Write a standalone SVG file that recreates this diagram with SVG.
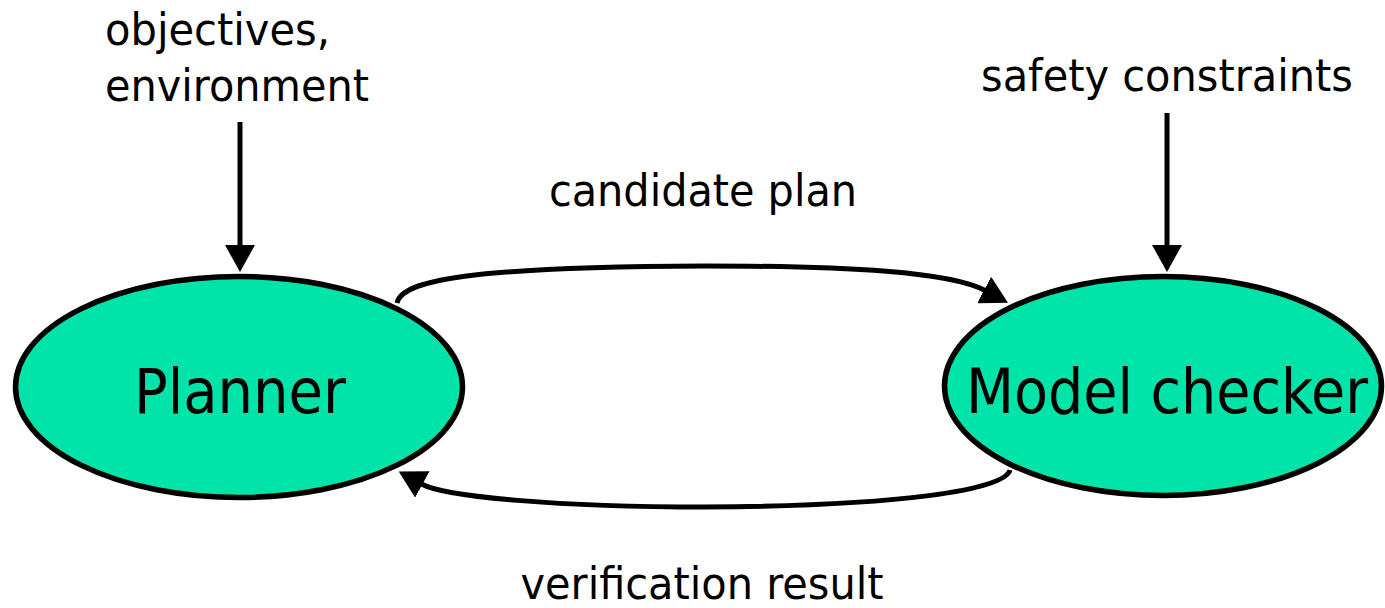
<svg xmlns="http://www.w3.org/2000/svg" width="1385" height="608" viewBox="0 0 1385 608">
<style>
.node{fill:#00e3a9;stroke:#000;stroke-width:5.5}
.lbl{font-family:"DejaVu Sans Condensed","DejaVu Sans",sans-serif;fill:#000}
.big{font-size:63px}
.sm{font-size:44px}
.edge{fill:none;stroke:#000;stroke-width:5}
</style>
<defs>
<marker id="ah" markerUnits="userSpaceOnUse" viewBox="0 0 27 30" refX="1" refY="15" markerWidth="27" markerHeight="30" orient="auto">
<path d="M0,0 L27,15 L0,30 z" fill="#000"/>
</marker>
</defs>
<g id="planner">
<ellipse class="node" cx="239" cy="387" rx="223.5" ry="110.5"/>
<text class="lbl big" x="240" y="413" text-anchor="middle" textLength="212" lengthAdjust="spacingAndGlyphs">Planner</text>
</g>
<g id="model-checker">
<ellipse class="node" cx="1163" cy="386" rx="218.5" ry="109.5"/>
<text class="lbl big" x="1167" y="413" text-anchor="middle" textLength="402" lengthAdjust="spacingAndGlyphs">Model checker</text>
</g>
<g id="labels">
<text class="lbl sm" x="105" y="45" textLength="225" lengthAdjust="spacingAndGlyphs">objectives,</text>
<text class="lbl sm" x="105" y="101" textLength="264" lengthAdjust="spacingAndGlyphs">environment</text>
<text class="lbl sm" x="1167" y="91" text-anchor="middle" textLength="372" lengthAdjust="spacingAndGlyphs">safety constraints</text>
<text class="lbl sm" x="703" y="206" text-anchor="middle" textLength="308" lengthAdjust="spacingAndGlyphs">candidate plan</text>
<text class="lbl sm" x="702" y="599" text-anchor="middle" textLength="363" lengthAdjust="spacingAndGlyphs">verification result</text>
</g>
<g id="connectors">
<path class="edge" d="M240 122 L240 246" marker-end="url(#ah)"/>
<path class="edge" d="M1167 113 L1167 246" marker-end="url(#ah)"/>
<path class="edge" d="M397 303 C402 280 470 267 705 266 C850 266 950 272 985 290.5" marker-end="url(#ah)"/>
<path class="edge" d="M1010 470 C1005 490 900 506 705 507 C560 507 445 497 421.5 484" marker-end="url(#ah)"/>
</g>
</svg>
